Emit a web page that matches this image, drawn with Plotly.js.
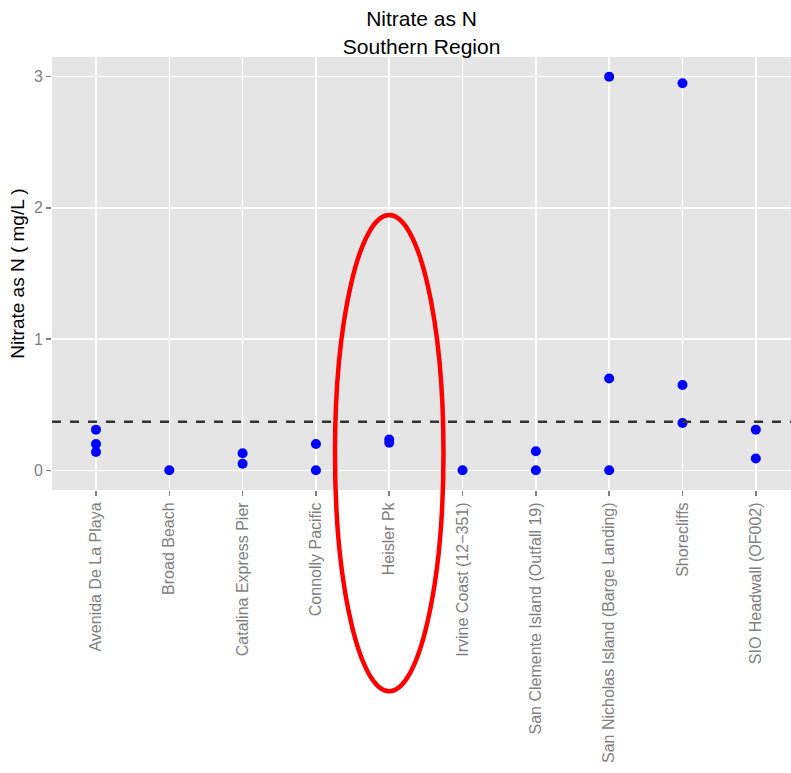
<!DOCTYPE html>
<html>
<head>
<meta charset="utf-8">
<script src="https://cdn.plot.ly/plotly-3.0.1.min.js"></script>
<style>html,body{margin:0;padding:0;background:#fff;}#chart{width:791px;height:773px;}</style>
</head>
<body>
<div id="chart"></div>
<script>
const sites = ["Avenida De La Playa","Broad Beach","Catalina Express Pier","Connolly Pacific","Heisler Pk","Irvine Coast (12\u2212351)","San Clemente Island (Outfall 19)","San Nicholas Island (Barge Landing)","Shorecliffs","SIO Headwall (OF002)"];
const pointSite = ["Avenida De La Playa","Avenida De La Playa","Avenida De La Playa","Broad Beach","Catalina Express Pier","Catalina Express Pier","Connolly Pacific","Connolly Pacific","Heisler Pk","Heisler Pk","Irvine Coast (12\u2212351)","San Clemente Island (Outfall 19)","San Clemente Island (Outfall 19)","San Nicholas Island (Barge Landing)","San Nicholas Island (Barge Landing)","San Nicholas Island (Barge Landing)","Shorecliffs","Shorecliffs","Shorecliffs","SIO Headwall (OF002)","SIO Headwall (OF002)"];
const nitrate = [0.31,0.20,0.14,0.0,0.13,0.05,0.20,0.0,0.235,0.21,0.0,0.145,0.0,3.0,0.70,0.0,2.95,0.65,0.36,0.31,0.09];
const threshold = 0.37;
const highlightSite = "Heisler Pk";

const hi = sites.indexOf(highlightSite);
const data = [{
  type: 'scatter', mode: 'markers',
  x: pointSite, y: nitrate,
  marker: {color: '#0000FF', size: 10},
  showlegend: false, hoverinfo: 'x+y'
}];
const layout = {
  width: 791, height: 773,
  margin: {l: 52, r: 0, t: 57, b: 283},
  paper_bgcolor: '#FFFFFF', plot_bgcolor: '#E5E5E5',
  font: {family: 'Liberation Sans, Arial, sans-serif', color: '#000'},
  title: {text: 'Nitrate as N<br>Southern Region', font: {size: 21, color: '#000'}, x: 0.533, xanchor: 'center', y: 0.966, yanchor: 'middle', yref: 'container'},
  xaxis: {
    type: 'category', categoryorder: 'array', categoryarray: sites,
    range: [-0.6, 9.48], showgrid: true, gridcolor: '#FFFFFF', gridwidth: 1.5,
    zeroline: false, showline: false,
    ticks: 'outside', ticklen: 5, tickwidth: 1.5, tickcolor: '#7F7F7F',
    tickangle: -90, tickfont: {size: 16, color: '#7F7F7F'}
  },
  yaxis: {
    range: [-0.15, 3.15], tickvals: [0,1,2,3], ticktext: ['0','1','2','3'],
    showgrid: true, gridcolor: '#FFFFFF', gridwidth: 1.5, zeroline: false, showline: false,
    ticks: 'outside', ticklen: 5, tickwidth: 1.5, tickcolor: '#7F7F7F',
    tickfont: {size: 16, color: '#7F7F7F'},
    title: {text: 'Nitrate as N ( mg/L )', font: {size: 19, color: '#000'}, standoff: 4}
  },
  shapes: [
    {type: 'line', xref: 'paper', x0: 0, x1: 1, yref: 'y', y0: threshold, y1: threshold,
     line: {color: '#333333', width: 2.5, dash: 'dash'}},
    {type: 'circle', xref: 'x', x0: hi - 0.74, x1: hi + 0.74, yref: 'paper', y0: -0.465, y1: 0.635,
     line: {color: '#FF0000', width: 4.5}}
  ]
};
Plotly.newPlot('chart', data, layout, {displayModeBar: false, staticPlot: true});
</script>
</body>
</html>
